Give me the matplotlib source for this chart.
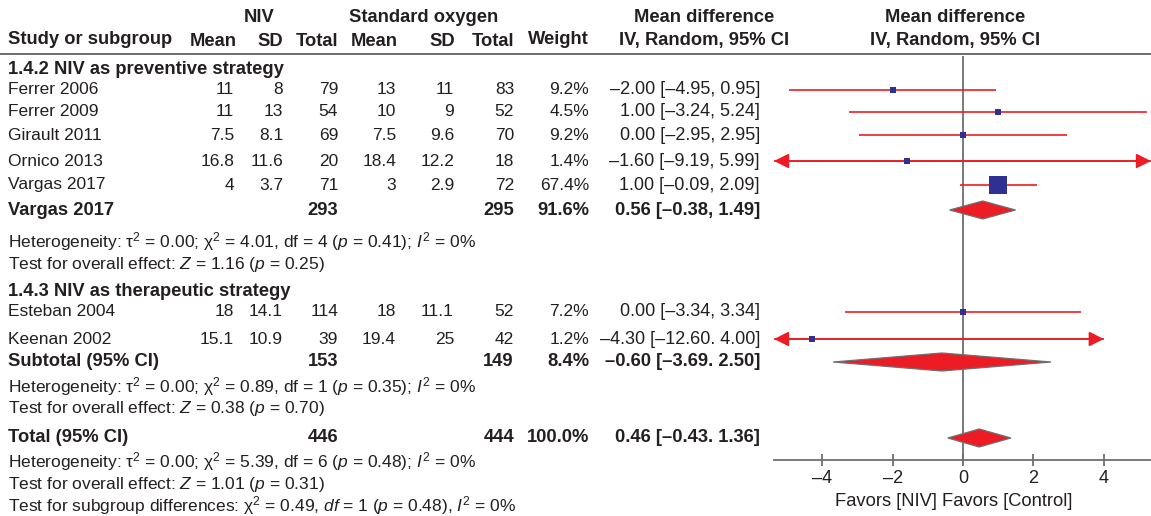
import numpy as np
import matplotlib.pyplot as plt
from matplotlib.lines import Line2D
from matplotlib import transforms

plt.rcParams['font.family'] = ['Liberation Sans', 'DejaVu Sans']
plt.rcParams['mathtext.fontset'] = 'custom'
plt.rcParams['mathtext.rm'] = 'Liberation Sans'
plt.rcParams['mathtext.it'] = 'Liberation Sans:italic'
plt.rcParams['mathtext.bf'] = 'Liberation Sans:bold'

# ==============================
# data
# ==============================
study = ['Ferrer 2006', 'Ferrer 2009', 'Girault 2011', 'Ornico 2013', 'Vargas 2017',
         'Esteban 2004', 'Keenan 2002']
niv_mean = [11, 11, 7.5, 16.8, 4, 18, 15.1]
niv_sd = [8, 13, 8.1, 11.6, 3.7, 14.1, 10.9]
niv_n = [79, 54, 69, 20, 71, 114, 39]
ox_mean = [13, 10, 7.5, 18.4, 3, 18, 19.4]
ox_sd = [11, 9, 9.6, 12.2, 2.9, 11.1, 25]
ox_n = [83, 52, 70, 18, 72, 52, 42]
weight = [9.2, 4.5, 9.2, 1.4, 67.4, 7.2, 1.2]
md = [-2.00, 1.00, 0.00, -1.60, 1.00, 0.00, -4.30]
ci_lo = [-4.95, -3.24, -2.95, -9.19, -0.09, -3.34, -12.60]
ci_hi = [0.95, 5.24, 2.95, 5.99, 2.09, 3.34, 4.00]
ci_sep = [',', ',', ',', ',', ',', ',', '.']

pool_label = ['Vargas 2017', 'Subtotal (95% CI)', 'Total (95% CI)']
pool_niv_n = [293, 153, 446]
pool_ox_n = [295, 149, 444]
pool_weight = [91.6, 8.4, 100.0]
pool_md = [0.56, -0.60, 0.46]
pool_lo = [-0.38, -3.69, -0.43]
pool_hi = [1.49, 2.50, 1.36]
pool_sep = [',', '.', '.']

groups = ['1.4.2 NIV as preventive strategy', '1.4.3 NIV as therapeutic strategy']

stats_lines = [
    'Heterogeneity: τ$^2$ = 0.00; χ$^2$ = 4.01, df = 4 ($p$ = 0.41); $I^2$ = 0%',
    'Test for overall effect: $Z$ = 1.16 ($p$ = 0.25)',
    'Heterogeneity: τ$^2$ = 0.00; χ$^2$ = 0.89, df = 1 ($p$ = 0.35); $I^2$ = 0%',
    'Test for overall effect: $Z$ = 0.38 ($p$ = 0.70)',
    'Heterogeneity: τ$^2$ = 0.00; χ$^2$ = 5.39, df = 6 ($p$ = 0.48); $I^2$ = 0%',
    'Test for overall effect: $Z$ = 1.01 ($p$ = 0.31)',
    'Test for subgroup differences: χ$^2$ = 0.49, $df$ = 1 ($p$ = 0.48), $I^2$ = 0%',
]

tick_vals = [-4, -2, 0, 2, 4]

# ==============================
# layout (pixels of the 1151x516 picture)
# ==============================
W, H = 1151, 516
study_y = [90, 112, 135, 161, 185, 312, 339]
pool_y = [210, 362, 438]
group_y = [69, 292]
stats_y = [242, 265, 387, 409, 462, 484, 506]
arrow_left = [False, False, False, True, False, False, True]
arrow_right = [False, False, False, True, False, False, True]

TEXT = '#231f20'
RED = '#ed1c24'
BLUE = '#2e3192'
GRAY = '#6d6e71'
FS = 12.5    # regular text
FB = 13.2    # bold text

# column right edges
c_study = 8
c_nm, c_nsd, c_nn = 234, 283, 338
c_om, c_osd, c_on = 396, 454, 514
c_w = 589
c_ci = 760


def dash(s):
    return s.replace('-', '\u2013')


def fmt_ci(m, lo, hi, sep):
    return dash(f"{m:.2f} [{lo:.2f}{sep} {hi:.2f}]")


fig = plt.figure(figsize=(W / 100, H / 100), dpi=100)


def put(x, y, s, ha='left', bold=False, size=None):
    if size is None:
        size = FB if bold else FS
    fig.text(x / W, 1 - y / H, s, ha=ha, va='center', fontsize=size,
             fontweight='bold' if bold else 'normal', color=TEXT)


# headers
put(259, 17, 'NIV', ha='center', bold=True)
put(424, 17, 'Standard oxygen', ha='center', bold=True)
put(704, 17, 'Mean difference', ha='center', bold=True)
put(704, 40, 'IV, Random, 95% CI', ha='center', bold=True)
put(955, 17, 'Mean difference', ha='center', bold=True)
put(955, 40, 'IV, Random, 95% CI', ha='center', bold=True)
put(c_study, 40, 'Study or subgroup', bold=True)
for x, s in [(c_nm + 3, 'Mean'), (c_nsd, 'SD'), (c_nn, 'Total'), (c_om + 2, 'Mean'),
             (c_osd + 1, 'SD'), (c_on, 'Total')]:
    put(x, 42, s, ha='right', bold=True)
put(c_w, 39, 'Weight', ha='right', bold=True)
fig.add_artist(Line2D([0, 1], [1 - 54 / H] * 2, color=GRAY, lw=1.4))

for g, y in zip(groups, group_y):
    put(c_study, y, g, bold=True)

for i in range(len(study)):
    y = study_y[i]
    put(c_study, y, study[i])
    put(c_nm, y, f"{niv_mean[i]:g}", ha='right')
    put(c_nsd, y, f"{niv_sd[i]:g}", ha='right')
    put(c_nn, y, f"{niv_n[i]}", ha='right')
    put(c_om, y, f"{ox_mean[i]:g}", ha='right')
    put(c_osd, y, f"{ox_sd[i]:g}", ha='right')
    put(c_on, y, f"{ox_n[i]}", ha='right')
    put(c_w, y, f"{weight[i]:.1f}%", ha='right')
    put(c_ci, y, fmt_ci(md[i], ci_lo[i], ci_hi[i], ci_sep[i]), ha='right', size=13)

for i in range(len(pool_label)):
    y = pool_y[i]
    put(c_study, y, pool_label[i], bold=True)
    put(c_nn, y, f"{pool_niv_n[i]}", ha='right', bold=True)
    put(c_on, y, f"{pool_ox_n[i]}", ha='right', bold=True)
    put(c_w, y, f"{pool_weight[i]:.1f}%", ha='right', bold=True)
    put(c_ci, y, fmt_ci(pool_md[i], pool_lo[i], pool_hi[i], pool_sep[i]), ha='right', bold=True)

for s, y in zip(stats_lines, stats_y):
    put(c_study, y, s)

# ==============================
# forest panel
# ==============================
ax = fig.add_axes([774 / W, 0, (W - 774) / W, 1])
ax.set_xlim(-5.37, 5.34)
ax.set_ylim(H, 0)
ax.patch.set_visible(False)
for side in ['top', 'left', 'right']:
    ax.spines[side].set_visible(False)
ax.spines['bottom'].set_position(('data', 460))
ax.spines['bottom'].set_color(GRAY)
ax.spines['bottom'].set_linewidth(1.3)
ax.set_yticks([])
ax.set_xticks(tick_vals, labels=[dash(str(v)) for v in tick_vals])
ax.tick_params(axis='x', direction='inout', length=8, width=1.3, color=GRAY,
               labelsize=13, labelcolor=TEXT, pad=3)

ax.vlines(0, 56, 460, color=GRAY, lw=1.3, zorder=1)

x0, x1 = ax.get_xlim()
head = '-|>,head_length=0.9,head_width=0.45'
for i in range(len(study)):
    y = study_y[i]
    lo = max(ci_lo[i], x0)
    hi = min(ci_hi[i], x1)
    ax.hlines(y, lo, hi, color=RED, lw=1.2, zorder=2)
    if arrow_left[i]:
        ax.annotate('', xy=(lo, y), xytext=(md[i], y), annotation_clip=False,
                    arrowprops=dict(arrowstyle=head, color=RED, lw=1.2,
                                    mutation_scale=10, shrinkA=0, shrinkB=0))
    if arrow_right[i]:
        ax.annotate('', xy=(hi, y), xytext=(md[i], y), annotation_clip=False,
                    arrowprops=dict(arrowstyle=head, color=RED, lw=1.2,
                                    mutation_scale=10, shrinkA=0, shrinkB=0))
    side = max(5.5, 17.5 * np.sqrt(weight[i] / max(weight)))
    ax.plot(md[i], y, marker='s', ms=side * 0.72, color=BLUE, mec=BLUE, mew=0, zorder=3)

for i in range(len(pool_label)):
    y = pool_y[i]
    h = 9
    ax.fill([pool_lo[i], pool_md[i], pool_hi[i], pool_md[i]],
            [y, y - h, y, y + h], facecolor=RED, edgecolor=GRAY, lw=0.9, zorder=3)

lab = transforms.blended_transform_factory(ax.transAxes, ax.transData)
ax.text(0.477, 502, 'Favors [NIV] Favors [Control]', transform=lab, ha='center',
        va='center', fontsize=13.2, color=TEXT)

fig.savefig('out.png', dpi=100)
